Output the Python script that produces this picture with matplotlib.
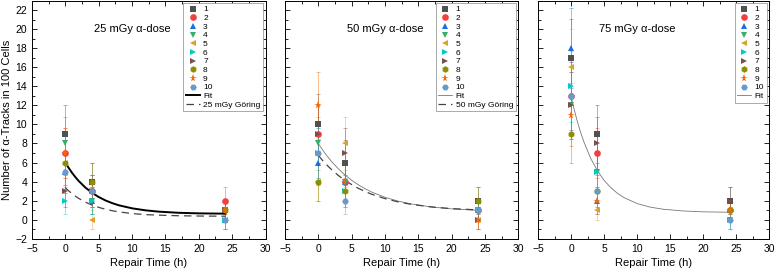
import matplotlib
matplotlib.use("Agg")
import matplotlib.pyplot as plt
from matplotlib.ticker import MultipleLocator


# время репарации, ч
times = [0, 4, 24]

labels = ["1", "2", "3", "4", "5", "6", "7", "8", "9", "10"]
colors = ["#515151", "#F14040", "#1A6FDF", "#37AD6B", "#D9A22A",
          "#00CBCC", "#7D4E4E", "#8E8E00", "#FB6501", "#6699CC"]
markers = ["s", "o", "^", "v", "<", ">", ">", "h", "*", "H"]

# 25 mGy
tracks_25 = [[9, 4, 1], [7, 3, 2], [5, 2, 0], [8, 2, 1], [6, 0, 0],
             [2, 2, 0], [3, 3, 1], [6, 4, 1], [7, 3, 1], [5, 3, 0]]
err_25 = [[3.0, 2.0, 1.0], [2.6, 1.7, 1.4], [2.2, 1.4, 1.0], [2.8, 1.4, 1.0], [2.4, 1.0, 1.0],
          [1.4, 1.4, 1.0], [1.7, 1.7, 1.0], [2.4, 2.0, 1.0], [2.6, 1.7, 1.0], [2.2, 1.7, 1.0]]

# 50 mGy
tracks_50 = [[10, 6, 2], [9, 4, 1], [6, 4, 1], [8, 4, 1], [4, 8, 0],
             [7, 3, 1], [9, 7, 0], [4, 3, 2], [12, 4, 0], [7, 2, 1]]
err_50 = [[3.2, 2.4, 1.4], [3.0, 2.0, 1.0], [2.4, 2.0, 1.0], [2.8, 2.0, 1.0], [2.0, 2.8, 1.0],
          [2.6, 1.7, 1.0], [3.0, 2.6, 1.0], [2.0, 1.7, 1.4], [3.5, 2.0, 1.0], [2.6, 1.4, 1.0]]

# 75 mGy
tracks_75 = [[17, 9, 2], [13, 7, 1], [18, 2, 1], [12, 5, 0], [16, 1, 1],
             [14, 5, 0], [12, 8, 2], [9, 3, 1], [11, 2, 1], [13, 3, 0]]
err_75 = [[4.1, 3.0, 1.4], [3.6, 2.6, 1.0], [4.2, 1.4, 1.0], [3.5, 2.2, 1.0], [4.0, 1.0, 1.0],
          [3.7, 2.2, 1.0], [3.5, 2.8, 1.4], [3.0, 1.7, 1.0], [3.3, 1.4, 1.0], [3.6, 1.7, 1.0]]

# кривые
curve_t = [0, 0.5, 1, 1.5, 2, 3, 4, 5, 6, 7, 8, 10, 12, 14, 17, 20, 24]
fit_25 = [6.00, 5.43, 4.92, 4.47, 4.06, 3.37, 2.82, 2.38, 2.02, 1.74, 1.51, 1.19, 0.98, 0.84, 0.72, 0.66, 0.63]
goring_25 = [3.35, 3.02, 2.73, 2.47, 2.23, 1.84, 1.53, 1.29, 1.09, 0.94, 0.82, 0.64, 0.53, 0.47, 0.41, 0.38, 0.36]
fit_50 = [8.00, 7.47, 6.97, 6.52, 6.09, 5.34, 4.69, 4.14, 3.66, 3.25, 2.90, 2.35, 1.94, 1.64, 1.33, 1.13, 0.98]
goring_50 = [6.75, 6.33, 5.94, 5.58, 5.25, 4.64, 4.12, 3.68, 3.29, 2.96, 2.67, 2.21, 1.86, 1.60, 1.33, 1.16, 1.02]
fit_75 = [12.95, 11.49, 10.19, 9.06, 8.06, 6.40, 5.13, 4.13, 3.37, 2.78, 2.32, 1.69, 1.31, 1.09, 0.91, 0.82, 0.78]


def draw_panel(ax, title, tracks, errs, fit, fit_style, goring=None, goring_label=None):
    for i in range(len(labels)):
        ax.errorbar(times, tracks[i], yerr=errs[i], fmt="none", ecolor=colors[i],
                    elinewidth=0.5, capsize=1.5, capthick=0.5, alpha=0.6, zorder=2)
    ax.plot(curve_t, fit, label="Fit", zorder=3, **fit_style)
    for i in range(len(labels)):
        ax.plot(times, tracks[i], linestyle="none", marker=markers[i], color=colors[i],
                markersize=4.8 if markers[i] != "*" else 5.8, markeredgewidth=0,
                label=labels[i], zorder=4)
    if goring is not None:
        ax.plot(curve_t, goring, color="#444444", lw=0.9, dashes=(6, 4),
                label=goring_label, zorder=3)

    ax.text(10, 20, title, ha="center", va="center", fontsize=8)
    ax.set_xlim(-5, 30)
    ax.set_ylim(-2, 23)
    ax.xaxis.set_major_locator(MultipleLocator(5))
    ax.xaxis.set_minor_locator(MultipleLocator(2.5))
    ax.yaxis.set_major_locator(MultipleLocator(2))
    ax.yaxis.set_minor_locator(MultipleLocator(1))
    ax.tick_params(which="both", direction="in", top=True, right=True, width=0.6, labelsize=7.5)
    ax.tick_params(which="major", length=3.5)
    ax.tick_params(which="minor", length=2)
    for sp in ax.spines.values():
        sp.set_linewidth(0.7)
    ax.set_xlabel("Repair Time (h)", fontsize=8, labelpad=3)

    # порядок в легенде: 1..10, Fit, Göring
    handles, names = ax.get_legend_handles_labels()
    order = [names.index(l) for l in labels] + [names.index("Fit")]
    if goring_label:
        order.append(names.index(goring_label))
    leg = ax.legend([handles[k] for k in order], [names[k] for k in order],
                    loc="upper right", fontsize=6, labelspacing=0.1, handlelength=1.7,
                    handletextpad=0.4, borderpad=0.3, borderaxespad=0.3,
                    fancybox=False, framealpha=1, edgecolor="#888888")
    leg.get_frame().set_linewidth(0.5)


def main():
    plt.rcParams["font.family"] = ["Liberation Sans", "DejaVu Sans"]
    fig = plt.figure(figsize=(7.77, 2.71), dpi=100)
    W, H = 777, 271
    bottom = (H - 238.7) / H
    height = 238.1 / H
    ax1 = fig.add_axes([32 / W, bottom, 233.5 / W, height])
    ax2 = fig.add_axes([285 / W, bottom, 233.3 / W, height])
    ax3 = fig.add_axes([538 / W, bottom, 231.3 / W, height])

    draw_panel(ax1, "25 mGy α-dose", tracks_25, err_25, fit_25,
               dict(color="black", lw=1.4), goring_25, "25 mGy Göring")
    draw_panel(ax2, "50 mGy α-dose", tracks_50, err_50, fit_50,
               dict(color="#777777", lw=0.6), goring_50, "50 mGy Göring")
    draw_panel(ax3, "75 mGy α-dose", tracks_75, err_75, fit_75,
               dict(color="#777777", lw=0.6))

    ax1.set_ylabel("Number of α-Tracks in 100 Cells", fontsize=8, labelpad=2)
    ax2.tick_params(labelleft=False)
    ax3.tick_params(labelleft=False)

    fig.savefig("out.png", dpi=100)


if __name__ == "__main__":
    main()
